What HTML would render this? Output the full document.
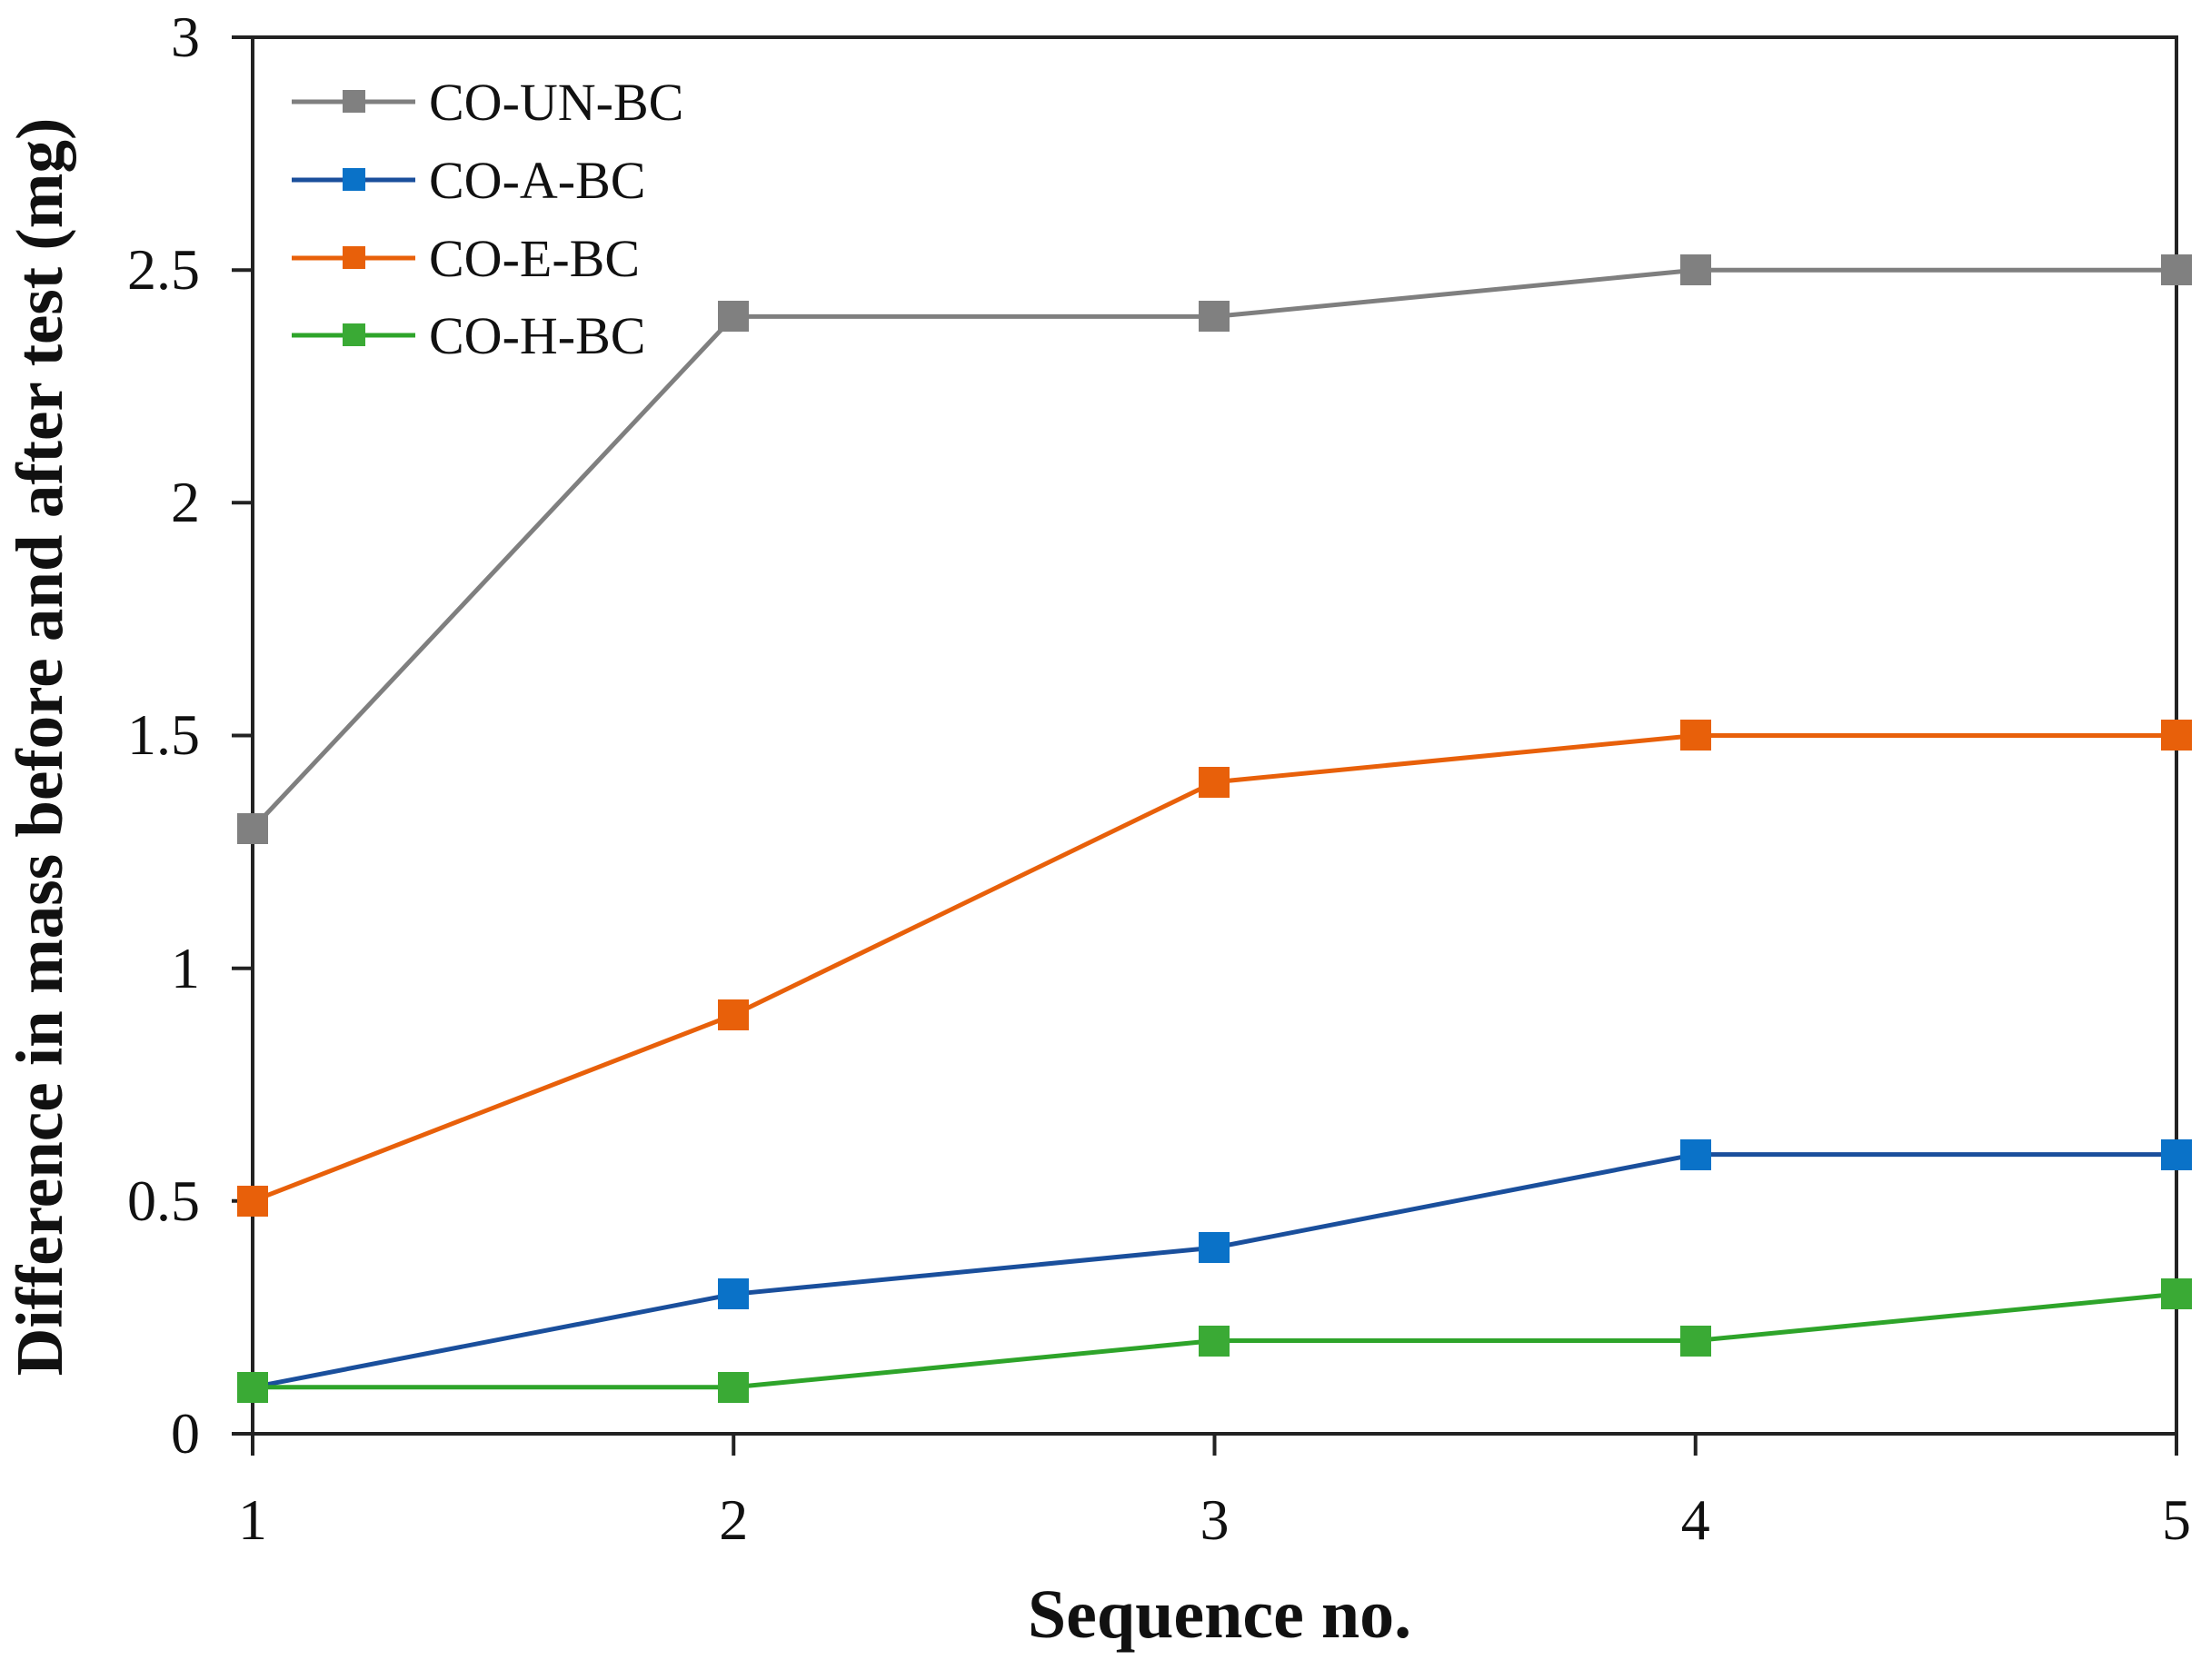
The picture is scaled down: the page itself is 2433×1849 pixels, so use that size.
<!DOCTYPE html>
<html><head><meta charset="utf-8"><style>html,body{margin:0;padding:0;background:#fff}</style></head>
<body>
<svg width="2433" height="1844" viewBox="0 0 2433 1844" xmlns="http://www.w3.org/2000/svg" font-family="Liberation Serif, serif">
<rect width="2433" height="1844" fill="#fff"/>
<g stroke="#222" stroke-width="4" fill="none">
<rect x="278" y="41" width="2117" height="1537"/>
<line x1="255" y1="41" x2="278" y2="41"/><line x1="255" y1="297.2" x2="278" y2="297.2"/>
<line x1="255" y1="553.3" x2="278" y2="553.3"/><line x1="255" y1="809.5" x2="278" y2="809.5"/>
<line x1="255" y1="1065.7" x2="278" y2="1065.7"/><line x1="255" y1="1321.8" x2="278" y2="1321.8"/>
<line x1="255" y1="1578" x2="278" y2="1578"/>
<line x1="278" y1="1578" x2="278" y2="1602"/><line x1="807.25" y1="1578" x2="807.25" y2="1602"/>
<line x1="1336.5" y1="1578" x2="1336.5" y2="1602"/><line x1="1865.75" y1="1578" x2="1865.75" y2="1602"/>
<line x1="2395" y1="1578" x2="2395" y2="1602"/>
</g>
<g font-size="64" fill="#111" text-anchor="end">
<text x="220" y="62">3</text><text x="220" y="318">2.5</text><text x="220" y="574">2</text>
<text x="220" y="830">1.5</text><text x="220" y="1087">1</text><text x="220" y="1343">0.5</text><text x="220" y="1599">0</text>
</g>
<g font-size="64" fill="#111" text-anchor="middle">
<text x="278" y="1694">1</text><text x="807.25" y="1694">2</text><text x="1336.5" y="1694">3</text>
<text x="1865.75" y="1694">4</text><text x="2395" y="1694">5</text>
</g>
<text x="1342" y="1802" font-size="76" font-weight="bold" text-anchor="middle" fill="#111">Sequence no.</text>
<text transform="translate(68,822) rotate(-90)" font-size="73" font-weight="bold" text-anchor="middle" fill="#111">Difference in mass before and after test (mg)</text>
<g fill="none" stroke-width="5">
<polyline stroke="#7f7f7f" points="278,912 807.25,348.4 1336.5,348.4 1865.75,297.2 2395,297.2"/>
<polyline stroke="#E8600A" points="278,1321.8 807.25,1116.9 1336.5,860.7 1865.75,809.5 2395,809.5"/>
<polyline stroke="#1a4f9c" points="278,1526.8 807.25,1424.3 1336.5,1373.1 1865.75,1270.6 2395,1270.6"/>
<polyline stroke="#2ea42a" points="278,1526.8 807.25,1526.8 1336.5,1475.5 1865.75,1475.5 2395,1424.3"/>
</g>
<g fill="#808080">
<rect x="261" y="895" width="34" height="34"/><rect x="790" y="331" width="34" height="34"/><rect x="1319" y="331" width="34" height="34"/><rect x="1849" y="280" width="34" height="34"/><rect x="2378" y="280" width="34" height="34"/>
</g>
<g fill="#E8600A">
<rect x="261" y="1305" width="34" height="34"/><rect x="790" y="1100" width="34" height="34"/><rect x="1319" y="844" width="34" height="34"/><rect x="1849" y="792" width="34" height="34"/><rect x="2378" y="792" width="34" height="34"/>
</g>
<g fill="#0a72c8">
<rect x="790" y="1407" width="34" height="34"/><rect x="1319" y="1356" width="34" height="34"/><rect x="1849" y="1254" width="34" height="34"/><rect x="2378" y="1254" width="34" height="34"/>
</g>
<g fill="#3aaa35">
<rect x="261" y="1510" width="34" height="34"/><rect x="790" y="1510" width="34" height="34"/><rect x="1319" y="1459" width="34" height="34"/><rect x="1849" y="1459" width="34" height="34"/><rect x="2378" y="1407" width="34" height="34"/>
</g>
<g stroke-width="5">
<line x1="321" y1="112" x2="457" y2="112" stroke="#7f7f7f"/>
<line x1="321" y1="198" x2="457" y2="198" stroke="#1a4f9c"/>
<line x1="321" y1="284" x2="457" y2="284" stroke="#E8600A"/>
<line x1="321" y1="369" x2="457" y2="369" stroke="#2ea42a"/>
</g>
<rect x="377" y="99" width="25" height="25" fill="#808080"/>
<rect x="377" y="185" width="25" height="25" fill="#0a72c8"/>
<rect x="377" y="271" width="25" height="25" fill="#E8600A"/>
<rect x="377" y="356" width="25" height="25" fill="#3aaa35"/>
<g font-size="58" fill="#111">
<text x="472" y="132">CO-UN-BC</text><text x="472" y="218">CO-A-BC</text>
<text x="472" y="304">CO-E-BC</text><text x="472" y="389">CO-H-BC</text>
</g>
</svg>
</body></html>
